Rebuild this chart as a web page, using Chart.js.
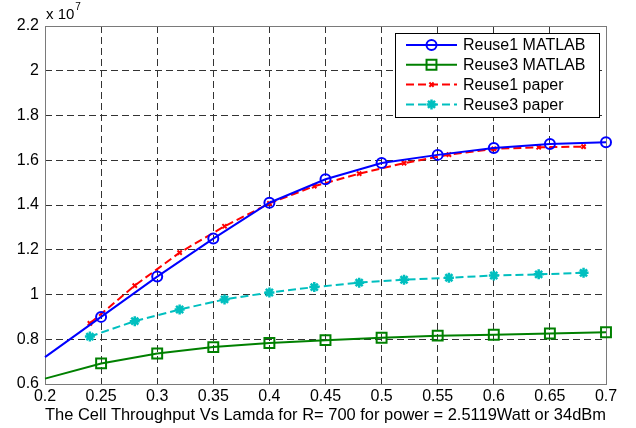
<!DOCTYPE html>
<html>
<head>
<meta charset="utf-8">
<script src="https://cdn.jsdelivr.net/npm/chart.js@4.4.1/dist/chart.umd.min.js"></script>
<style>
  html, body { margin: 0; padding: 0; background: #fff; }
  #wrap { width: 636px; height: 428px; }
</style>
</head>
<body>
<div id="wrap"><canvas id="chart" width="636" height="428"></canvas></div>
<script>
// throughput values are in units of 10^7
const lambdaMatlab = [0.2, 0.25, 0.3, 0.35, 0.4, 0.45, 0.5, 0.55, 0.6, 0.65, 0.7];
const reuse1Matlab = [0.72, 0.90, 1.08, 1.25, 1.41, 1.515, 1.588, 1.624, 1.655, 1.673, 1.68];
const reuse3Matlab = [0.624, 0.692, 0.736, 0.765, 0.783, 0.796, 0.807, 0.816, 0.82, 0.826, 0.831];
const lambdaPaper = [0.24, 0.28, 0.32, 0.36, 0.40, 0.44, 0.48, 0.52, 0.56, 0.60, 0.64, 0.68];
const reuse1Paper = [0.871, 1.04, 1.187, 1.305, 1.407, 1.484, 1.54, 1.587, 1.625, 1.651, 1.658, 1.661];
const reuse3Paper = [0.812, 0.881, 0.933, 0.978, 1.009, 1.033, 1.053, 1.066, 1.075, 1.085, 1.09, 1.097];
const seriesNames = ["Reuse1 MATLAB", "Reuse3 MATLAB", "Reuse1 paper", "Reuse3 paper"];
const xTitle = "The Cell Throughput Vs Lamda for R= 700 for power = 2.5119Watt or 34dBm";

const FONT = "'Liberation Sans', Arial, sans-serif";

const toPoints = (xs, ys) => xs.map((x, i) => ({ x: x, y: ys[i] }));
// first matlab point (lambda = 0.2) has no marker
const noFirst = (r) => lambdaMatlab.map((x, i) => i === 0 ? 0 : r);

// legend box drawn like the matlab one (line + marker sample)
const boxLegend = {
  id: "boxLegend",
  afterDraw(chart) {
    const ctx = chart.ctx;
    const x0 = 395, y0 = 33, w = 204, h = 84;
    ctx.save();
    ctx.fillStyle = "#fff";
    ctx.fillRect(x0, y0, w, h);
    ctx.strokeStyle = "#000";
    ctx.lineWidth = 1;
    ctx.strokeRect(x0 + 0.5, y0 + 0.5, w, h);
    chart.data.datasets.forEach((ds, i) => {
      const y = 45 + i * 19.8;
      ctx.strokeStyle = ds.borderColor;
      ctx.lineWidth = ds.borderWidth;
      ctx.setLineDash(ds.borderDash || []);
      ctx.beginPath();
      ctx.moveTo(406, y);
      ctx.lineTo(457, y);
      ctx.stroke();
      ctx.setLineDash([]);
      ctx.strokeStyle = ds.pointBorderColor;
      ctx.fillStyle = ds.pointBackgroundColor;
      ctx.lineWidth = ds.pointBorderWidth;
      Chart.helpers.drawPoint(ctx, {
        pointStyle: ds.pointStyle,
        radius: ds.legendRadius,
        borderWidth: ds.pointBorderWidth
      }, 431.5, y);
      ctx.fillStyle = "#000";
      ctx.font = "16px " + FONT;
      ctx.textBaseline = "middle";
      ctx.textAlign = "left";
      ctx.fillText(ds.label, 463, y + 1);
    });
    ctx.restore();
  }
};

// matlab-style box around plot + exponent label
const axesBox = {
  id: "axesBox",
  beforeDatasetsDraw(chart) {
    const { ctx, chartArea: a } = chart;
    ctx.save();
    ctx.strokeStyle = "#7a7a7a";
    ctx.lineWidth = 1;
    ctx.strokeRect(Math.round(a.left) + 0.5, Math.round(a.top) + 0.5,
      Math.round(a.right - a.left), Math.round(a.bottom - a.top));
    ctx.restore();
  },
  afterDraw(chart) {
    const ctx = chart.ctx;
    ctx.save();
    ctx.fillStyle = "#000";
    ctx.textBaseline = "alphabetic";
    ctx.textAlign = "left";
    ctx.font = "15px " + FONT;
    ctx.fillText("x 10", 46, 19);
    const w = ctx.measureText("x 10").width;
    ctx.font = "10px " + FONT;
    ctx.fillText("7", 46 + w + 1, 10);
    ctx.restore();
  }
};

const gridColor = (ctx) => {
  const n = ctx.scale.ticks.length;
  return (ctx.index === 0 || ctx.index === n - 1) ? "rgba(0,0,0,0)" : "#333";
};

new Chart(document.getElementById("chart"), {
  type: "line",
  data: {
    datasets: [
      {
        label: seriesNames[0],
        data: toPoints(lambdaMatlab, reuse1Matlab),
        borderColor: "#0000ff",
        borderWidth: 2,
        pointStyle: "circle",
        pointRadius: noFirst(5),
        legendRadius: 5,
        pointBorderWidth: 2,
        pointBorderColor: "#0000ff",
        pointBackgroundColor: "rgba(0,0,0,0)",
        tension: 0
      },
      {
        label: seriesNames[1],
        data: toPoints(lambdaMatlab, reuse3Matlab),
        borderColor: "#008000",
        borderWidth: 2,
        pointStyle: "rect",
        pointRadius: noFirst(7),
        legendRadius: 7,
        pointBorderWidth: 2,
        pointBorderColor: "#008000",
        pointBackgroundColor: "rgba(0,0,0,0)",
        tension: 0
      },
      {
        label: seriesNames[2],
        data: toPoints(lambdaPaper, reuse1Paper),
        borderColor: "#ff0000",
        borderWidth: 2,
        borderDash: [8, 4],
        pointStyle: "crossRot",
        pointRadius: 3,
        legendRadius: 3,
        pointBorderWidth: 2,
        pointBorderColor: "#ff0000",
        pointBackgroundColor: "#ff0000",
        tension: 0
      },
      {
        label: seriesNames[3],
        data: toPoints(lambdaPaper, reuse3Paper),
        borderColor: "#00bfbf",
        borderWidth: 2,
        borderDash: [8, 4],
        pointStyle: "star",
        pointRadius: 5,
        legendRadius: 5,
        pointBorderWidth: 2.5,
        pointBorderColor: "#00bfbf",
        pointBackgroundColor: "#00bfbf",
        tension: 0
      }
    ]
  },
  options: {
    responsive: false,
    animation: false,
    clip: false,
    layout: { padding: { top: 26, right: 30, left: 0, bottom: 0 } },
    plugins: {
      legend: { display: false },
      tooltip: { enabled: false }
    },
    scales: {
      x: {
        type: "linear",
        min: 0.2,
        max: 0.7,
        afterFit(scale) { scale.height = 44; },
        ticks: {
          stepSize: 0.05,
          padding: 3,
          color: "#000",
          font: { family: FONT, size: 16 },
          maxRotation: 0,
          callback: (v) => Number(v.toFixed(2)).toString()
        },
        grid: { color: gridColor, lineWidth: 1, tickLength: 0 },
        border: { display: false, dash: [7, 4] },
        title: {
          display: true,
          text: xTitle,
          color: "#000",
          font: { family: FONT, size: 16.6, lineHeight: 1 },
          padding: { top: 0, bottom: 4 }
        }
      },
      y: {
        min: 0.6,
        max: 2.2,
        afterFit(scale) { scale.width = 45; },
        ticks: {
          stepSize: 0.2,
          padding: 6,
          color: "#000",
          font: { family: FONT, size: 16 },
          callback: (v) => Number(v.toFixed(1)).toString()
        },
        grid: { color: gridColor, lineWidth: 1, tickLength: 0 },
        border: { display: false, dash: [7, 4] }
      }
    }
  },
  plugins: [axesBox, boxLegend]
});
</script>
</body>
</html>
